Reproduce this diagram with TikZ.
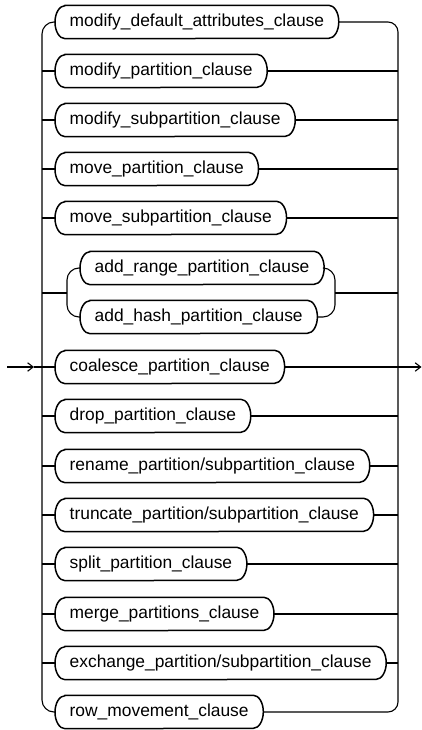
\documentclass[tikz,border=0pt]{standalone}
\usepackage{fontspec}
\setmainfont{Liberation Sans}
\usetikzlibrary{arrows.meta}
\tikzset{
  x=1pt, y=1pt,
  clause/.style={anchor=west, inner xsep=14.5pt, inner ysep=0pt, minimum height=33pt,
    font=\fontsize{17.4}{20}\selectfont},
  outline/.style={line width=1.5pt, black},
  conn/.style={line width=1.1pt, black},
  tip/.style={-{Straight Barb[length=5.5pt,width=8.5pt,line width=1.1pt]}}
}
\newcommand{\clauseoutline}[1]{%
  \draw[outline] ([xshift=10pt]#1.north west) -- ([xshift=-10pt]#1.north east)
    arc[start angle=90,end angle=-90,x radius=10pt,y radius=16.5pt]
    -- ([xshift=10pt]#1.south west)
    arc[start angle=270,end angle=90,x radius=10pt,y radius=16.5pt] -- cycle;}
\begin{document}
\begin{tikzpicture}
\useasboundingbox (0,0) rectangle (422,-730);
% clauses
\node[clause] (r1)  at (55,-22)  {modify\_default\_attributes\_clause};
\node[clause] (r2)  at (55,-71)  {modify\_partition\_clause};
\node[clause] (r3)  at (55,-120) {modify\_subpartition\_clause};
\node[clause] (r4)  at (55,-169) {move\_partition\_clause};
\node[clause] (r5)  at (55,-218) {move\_subpartition\_clause};
\node[clause] (r6a) at (80,-268) {add\_range\_partition\_clause};
\node[clause] (r6b) at (80,-317) {add\_hash\_partition\_clause};
\node[clause] (r7)  at (55,-367) {coalesce\_partition\_clause};
\node[clause] (r8)  at (55,-416) {drop\_partition\_clause};
\node[clause] (r9)  at (55,-466) {rename\_partition/subpartition\_clause};
\node[clause] (r10) at (55,-515) {truncate\_partition/subpartition\_clause};
\node[clause] (r11) at (55,-564) {split\_partition\_clause};
\node[clause] (r12) at (55,-614) {merge\_partitions\_clause};
\node[clause] (r13) at (55,-663) {exchange\_partition/subpartition\_clause};
\node[clause] (r14) at (55,-712) {row\_movement\_clause};
\foreach \n in {r1,r2,r3,r4,r5,r6a,r6b,r7,r8,r9,r10,r11,r12,r13,r14}{\clauseoutline{\n}}
% junction coordinates
\coordinate (L)  at (42,-367);
\coordinate (R)  at (398,-367);
\coordinate (SL) at (67,-293);
\coordinate (SR) at (335,-293);
\coordinate (in) at (7,-367);
\coordinate (inarr) at (34,-367);
\coordinate (out) at (421.5,-367);
% main rails
\draw[conn, rounded corners=12pt] (r1.west) -| (L) |- (r14.west);
\draw[conn, rounded corners=10pt] (r1.east) -| (R) |- (r14.east);
% stubs
\foreach \n in {r2,r3,r4,r5,r7,r8,r9,r10,r11,r12,r13}{
  \draw[conn] (\n.west -| L) -- (\n.west);
  \draw[conn] (\n.east) -- (\n.east -| R);
}
% sub branch
\draw[conn] (SL -| L) -- (SL);
\draw[conn, rounded corners=12pt] (r6a.west) -| (SL) |- (r6b.west);
\draw[conn, rounded corners=12pt] (r6a.east) -| (SR) |- (r6b.east);
\draw[conn] (SR) -- (SR -| R);
% entry / exit
\draw[conn, tip] (in) -- (inarr);
\draw[conn] (inarr) -- (r7.west);
\draw[conn, tip] (r7.east) -- (out);
\end{tikzpicture}
\end{document}
